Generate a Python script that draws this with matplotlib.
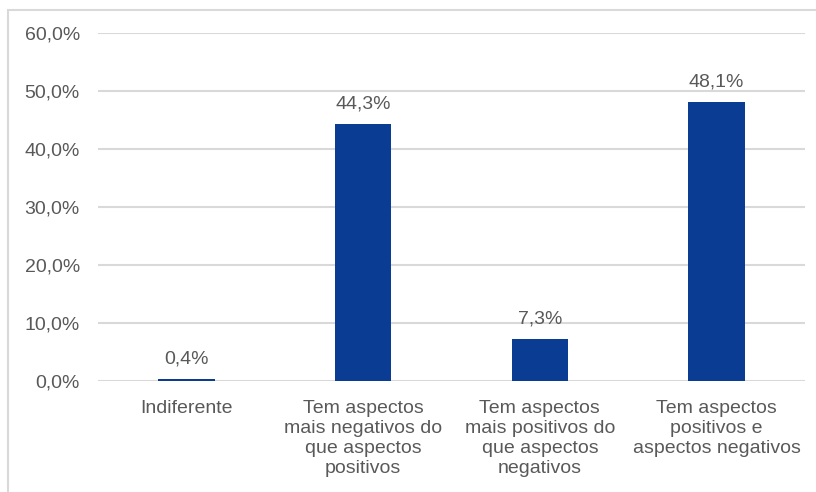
import matplotlib.pyplot as plt
from matplotlib.patches import Rectangle
from matplotlib.ticker import FuncFormatter

plt.rcParams['font.family'] = ['Liberation Sans', 'DejaVu Sans']

categorias = [
    "Indiferente",
    "Tem aspectos\nmais negativos do\nque aspectos\npositivos",
    "Tem aspectos\nmais positivos do\nque aspectos\nnegativos",
    "Tem aspectos\npositivos e\naspectos negativos",
]
percentuais = [0.4, 44.3, 7.3, 48.1]
yticks = [0, 10, 20, 30, 40, 50, 60]

cor_barra = "#0B3C94"
cor_texto = "#595959"
cor_grade = "#D9D9D9"
tam = 14

fig = plt.figure(figsize=(8.16, 4.92), dpi=100)
ax = fig.add_axes([0.120, 0.2256, 0.8665, 0.7074])

x = range(len(categorias))
ax.bar(x, percentuais, width=0.32, color=cor_barra, zorder=3)

for xi, v in zip(x, percentuais):
    ax.annotate(f"{v:.1f}%".replace(".", ","), (xi, v), xytext=(0, 8),
                textcoords="offset points", ha="center", va="bottom",
                fontsize=tam, color=cor_texto)

ax.set_xlim(-0.5, len(categorias) - 0.5)
ax.set_ylim(0, 60)
ax.set_yticks(yticks)
ax.yaxis.set_major_formatter(FuncFormatter(lambda v, p: f"{v:.1f}%".replace(".", ",")))
ax.set_xticks(list(x))
ax.set_xticklabels(categorias, linespacing=1.22)
ax.tick_params(axis="both", length=0, labelsize=tam, labelcolor=cor_texto)
ax.tick_params(axis="y", pad=13)
ax.tick_params(axis="x", pad=14)
ax.grid(axis="y", color=cor_grade, linewidth=1.5, zorder=0)
for s in ax.spines.values():
    s.set_visible(False)

# moldura cinza clara
fig.patches.append(Rectangle((7.5 / 816, -0.1), 1.1, 1 - 9.5 / 492 + 0.1,
                             transform=fig.transFigure, fill=False,
                             edgecolor=cor_grade, linewidth=1.5))

fig.savefig("out.png", dpi=100)
